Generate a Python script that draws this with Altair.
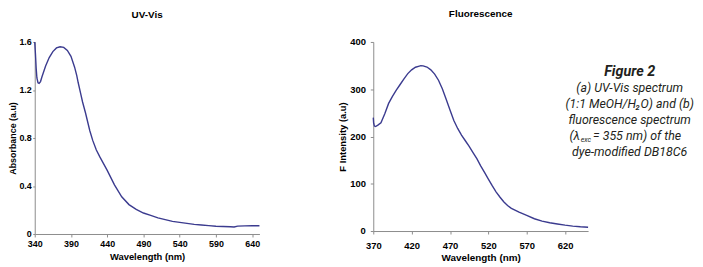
import altair as alt
import pandas as pd

# ---------------- data ----------------
uv_nm = [340, 341, 342, 343, 344.5, 346, 348, 350, 355, 360, 365, 370, 375, 380,
         385, 390, 395, 398, 400, 403, 406, 410, 416, 420, 425, 430, 440, 450,
         460, 470, 480, 490, 500, 510, 520, 530, 540, 550, 560, 570, 580, 590,
         600, 610, 615, 620, 630, 640, 650]
uv_abs = [1.60, 1.50, 1.38, 1.30, 1.26, 1.255, 1.27, 1.31, 1.40, 1.47, 1.52, 1.55,
          1.56, 1.555, 1.53, 1.48, 1.39, 1.32, 1.26, 1.18, 1.10, 1.01, 0.86, 0.78,
          0.70, 0.64, 0.53, 0.41, 0.31, 0.245, 0.205, 0.175, 0.155, 0.135, 0.12,
          0.105, 0.097, 0.088, 0.08, 0.075, 0.07, 0.065, 0.062, 0.060, 0.058,
          0.066, 0.068, 0.069, 0.069]

fl_nm = [370, 370.5, 371.5, 373, 376, 380, 385, 390, 395, 400, 405, 410, 415, 420,
         425, 430, 432, 435, 440, 445, 450, 455, 460, 465, 470, 475, 480, 485,
         490, 495, 500, 505, 510, 515, 520, 525, 530, 535, 540, 545, 550, 560,
         570, 580, 590, 600, 610, 620, 630, 640, 650]
fl_int = [240, 228, 222, 221, 224, 229, 248, 270, 285, 298, 310, 322, 333, 341,
          346.5, 349, 350, 349.5, 347, 341, 332, 319, 301, 279, 256, 234, 217,
          203, 191, 179, 166, 153, 138, 124, 110, 96, 83, 72, 62, 54, 48, 40, 33,
          26, 21, 17.5, 15, 12.5, 10.5, 9, 8]

uv_xticks = [340, 390, 440, 490, 540, 590, 640]
uv_yticks = [0, 0.4, 0.8, 1.2, 1.6]
fl_xticks = [370, 420, 470, 520, 570, 620]
fl_yticks = [0, 100, 200, 300, 400]

caption_head = "Figure 2"
caption_lines = ["(a) UV-Vis spectrum", "(1:1 MeOH/H\u2082O) and (b)", "fluorescence spectrum"]
caption_lam_a = "(\u03bb"
caption_lam_sub = "exc"
caption_lam_b = "= 355 nm) of the"
caption_last = "dye-modified DB18C6"

LINE = "#3b3b8f"
AX = "#8c8c8c"
FONT = "Liberation Sans"
CAPFONT = "Roboto, sans-serif"

uv_df = pd.DataFrame({"nm": uv_nm, "v": uv_abs})
fl_df = pd.DataFrame({"nm": fl_nm, "v": fl_int})

common = dict(grid=False, domainColor=AX, tickColor=AX, labelFont=FONT,
              labelFontWeight="bold", labelColor="black", titleFont=FONT,
              titleFontWeight="bold", titleColor="black")

uv = alt.Chart(uv_df, title=alt.Title("UV-Vis", fontSize=10, font=FONT, fontWeight="bold",
                                      offset=18, anchor="middle")).mark_line(
    color=LINE, strokeWidth=1.4).encode(
    x=alt.X("nm:Q", scale=alt.Scale(domain=[340, 650], nice=False, zero=False),
            axis=alt.Axis(values=uv_xticks, title="Wavelength (nm)", labelFontSize=9,
                          titleFontSize=9.5, tickSize=3, labelPadding=3, titlePadding=3,
                          labelFlush=False, **common)),
    y=alt.Y("v:Q", scale=alt.Scale(domain=[0, 1.6], nice=False),
            axis=alt.Axis(values=uv_yticks, title="Absorbance (a.u)", labelFontSize=9,
                          titleFontSize=9, tickSize=2,
                          labelExpr="datum.value == 0 ? '0' : format(datum.value, '.1f')",
                          labelPadding=1.5, titlePadding=1, **common)),
).properties(width=227, height=194)

fl_line = alt.Chart(fl_df).mark_line(color=LINE, strokeWidth=1.4).encode(
    x=alt.X("nm:Q", scale=alt.Scale(domain=[370, 650], nice=False, zero=False),
            axis=alt.Axis(values=fl_xticks, title="Wavelength (nm)", labelFontSize=9.5,
                          titleFontSize=10, tickSize=3, labelPadding=6.5, titlePadding=3,
                          labelFlush=False, **common)),
    y=alt.Y("v:Q", scale=alt.Scale(domain=[0, 400], nice=False),
            axis=alt.Axis(values=fl_yticks, title="F Intensity (a.u)", labelFontSize=9.5,
                          titleFontSize=9.5, tickSize=3, labelPadding=5, titlePadding=2.5,
                          **common)),
)


def cap(text, x, y, size=12.5, align="center", weight="normal"):
    return alt.Chart(pd.DataFrame({"t": [text]})).mark_text(
        font=CAPFONT, fontStyle="italic", fontWeight=weight, fontSize=size,
        align=align, baseline="middle", color="#231f20").encode(
        text="t:N", x=alt.value(x), y=alt.value(y))


CX = 259
texts = [cap(caption_head, CX, 30, size=14.5, weight="bold")]
for i, line in enumerate(caption_lines):
    texts.append(cap(line, CX, 47 + 16 * i))
texts.append(cap(caption_lam_a, CX - 50, 95, align="right"))
texts.append(cap(caption_lam_sub, CX - 49.5, 99, size=7, align="left"))
texts.append(cap(caption_lam_b, CX - 37, 95, align="left"))
texts.append(cap(caption_last, CX, 111))

fl = alt.layer(fl_line, *texts, title=alt.Title("Fluorescence", fontSize=10, font=FONT,
                                                 fontWeight="bold", offset=18,
                                                 anchor="middle")).properties(
    width=217, height=191)

chart = alt.hconcat(uv, fl, spacing=75).properties(
    padding={"left": 0, "top": 0, "right": 0, "bottom": 0}
).configure_view(stroke=None)

chart.save("out.html", embed_options={"renderer": "svg", "actions": False})
